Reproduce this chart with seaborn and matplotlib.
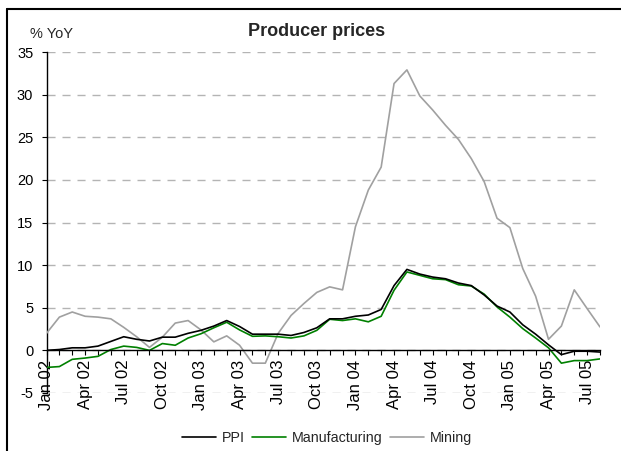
import matplotlib
matplotlib.use("Agg")
import matplotlib.pyplot as plt
import seaborn as sns
import pandas as pd
from matplotlib.lines import Line2D

months = ["Jan 02", "Feb 02", "Mar 02", "Apr 02", "May 02", "Jun 02", "Jul 02", "Aug 02",
          "Sep 02", "Oct 02", "Nov 02", "Dec 02", "Jan 03", "Feb 03", "Mar 03", "Apr 03",
          "May 03", "Jun 03", "Jul 03", "Aug 03", "Sep 03", "Oct 03", "Nov 03", "Dec 03",
          "Jan 04", "Feb 04", "Mar 04", "Apr 04", "May 04", "Jun 04", "Jul 04", "Aug 04",
          "Sep 04", "Oct 04", "Nov 04", "Dec 04", "Jan 05", "Feb 05", "Mar 05", "Apr 05",
          "May 05", "Jun 05", "Jul 05", "Aug 05"]

ppi = [0.0, 0.1, 0.3, 0.3, 0.5, 1.05, 1.6, 1.3, 1.1, 1.55, 1.55, 2.0, 2.35, 2.85, 3.5, 2.8,
       1.9, 1.9, 1.9, 1.75, 2.1, 2.65, 3.7, 3.7, 4.0, 4.15, 4.8, 7.6, 9.5, 8.95, 8.6, 8.4,
       7.9, 7.6, 6.5, 5.2, 4.5, 3.0, 1.9, 0.65, -0.5, -0.1, -0.1, -0.2]
manufacturing = [-2.0, -1.9, -1.05, -0.9, -0.7, 0.1, 0.5, 0.35, 0.0, 0.8, 0.6, 1.45, 1.95, 2.65,
                 3.3, 2.4, 1.65, 1.7, 1.6, 1.45, 1.7, 2.35, 3.65, 3.5, 3.7, 3.35, 4.0, 7.05,
                 9.2, 8.8, 8.4, 8.3, 7.7, 7.55, 6.6, 5.1, 3.9, 2.55, 1.45, 0.3, -1.5, -1.2,
                 -1.2, -1.0]
mining = [2.0, 3.9, 4.5, 4.0, 3.9, 3.7, 2.7, 1.6, 0.35, 1.55, 3.2, 3.5, 2.4, 1.0, 1.7, 0.6,
          -1.5, -1.5, 2.0, 4.1, 5.5, 6.8, 7.45, 7.1, 14.5, 18.8, 21.5, 31.3, 32.9, 29.85,
          28.2, 26.4, 24.75, 22.5, 19.8, 15.5, 14.4, 9.6, 6.35, 1.3, 2.85, 7.1, 4.9, 2.75]

series_names = ["PPI", "Manufacturing", "Mining"]
series_colors = {"PPI": "#000000", "Manufacturing": "#008000", "Mining": "#a0a0a0"}
y_ticks = [-5, 0, 5, 10, 15, 20, 25, 30, 35]

sns.set_theme(style="white")
plt.rcParams["font.family"] = ["Liberation Sans", "DejaVu Sans"]

rows = []
for name, vals in zip(series_names, [ppi, manufacturing, mining]):
    for i, v in enumerate(vals):
        rows.append({"idx": i, "month": months[i], "value": v, "series": name})
df = pd.DataFrame(rows)

fig = plt.figure(figsize=(6.21, 4.51), dpi=100)
ax = fig.add_axes([46.5 / 621, 58 / 451, (600 - 46.5) / 621, (393 - 52) / 451])

# draw in reverse so PPI sits on top
for name in ["Mining", "Manufacturing", "PPI"]:
    sns.lineplot(data=df[df["series"] == name], x="idx", y="value", color=series_colors[name],
                 linewidth=1.2, ax=ax, legend=False, zorder=3)

ax.set_xlim(0, len(months) - 1)
ax.set_ylim(-5, 35)
ax.yaxis.grid(True, linestyle=(0, (5.8, 5)), color="#b4b4b4", linewidth=1.0)
ax.xaxis.grid(False)
ax.set_axisbelow(True)
ax.set_xlabel("")
ax.set_ylabel("")

for s in ["top", "right"]:
    ax.spines[s].set_visible(False)
ax.spines["bottom"].set_position(("data", 0))
ax.spines["bottom"].set_color("black")
ax.spines["bottom"].set_linewidth(1.0)
ax.spines["bottom"].set_zorder(4)
ax.spines["left"].set_color("black")
ax.spines["left"].set_linewidth(1.0)

ax.tick_params(axis="x", which="both", direction="out", length=3.5, width=0.8, color="black",
               bottom=True, pad=3.2, labelsize=12, labelrotation=90, labelcolor="black")
ax.tick_params(axis="y", which="major", direction="out", length=3.5, width=0.8, color="black",
               left=True, labelsize=10.5, pad=6, labelcolor="black")

major = list(range(0, len(months), 3))
ax.set_xticks(major)
ax.set_xticklabels([months[i] for i in major], rotation=90, fontsize=12, color="black")
ax.set_xticks(list(range(len(months))), minor=True)
ax.set_yticks(y_ticks)
ax.set_yticklabels([str(t) for t in y_ticks], fontsize=10.5, color="black")

fig.text(317 / 621, 1 - 32 / 451, "Producer prices", ha="center", va="center", fontsize=13,
         fontweight="bold")
fig.text(30 / 621, 1 - 34.5 / 451, "% YoY", ha="left", va="center", fontsize=10.5)

handles = [Line2D([0], [0], color=series_colors[n], linewidth=1.2) for n in series_names]
fig.legend(handles, series_names, loc="center", bbox_to_anchor=(327 / 621, 1 - 438 / 451),
           ncol=3, frameon=False, fontsize=10.3, handlelength=2.4, handletextpad=0.4,
           columnspacing=0.5)

# figure frame (left and top edges visible)
fig.add_artist(Line2D([7 / 621, 7 / 621], [0, 1 - 9 / 451], transform=fig.transFigure,
                      color="black", linewidth=1.5))
fig.add_artist(Line2D([7 / 621, 1], [1 - 9 / 451, 1 - 9 / 451], transform=fig.transFigure,
                      color="black", linewidth=1.5))

fig.savefig("out.png", dpi=100)
